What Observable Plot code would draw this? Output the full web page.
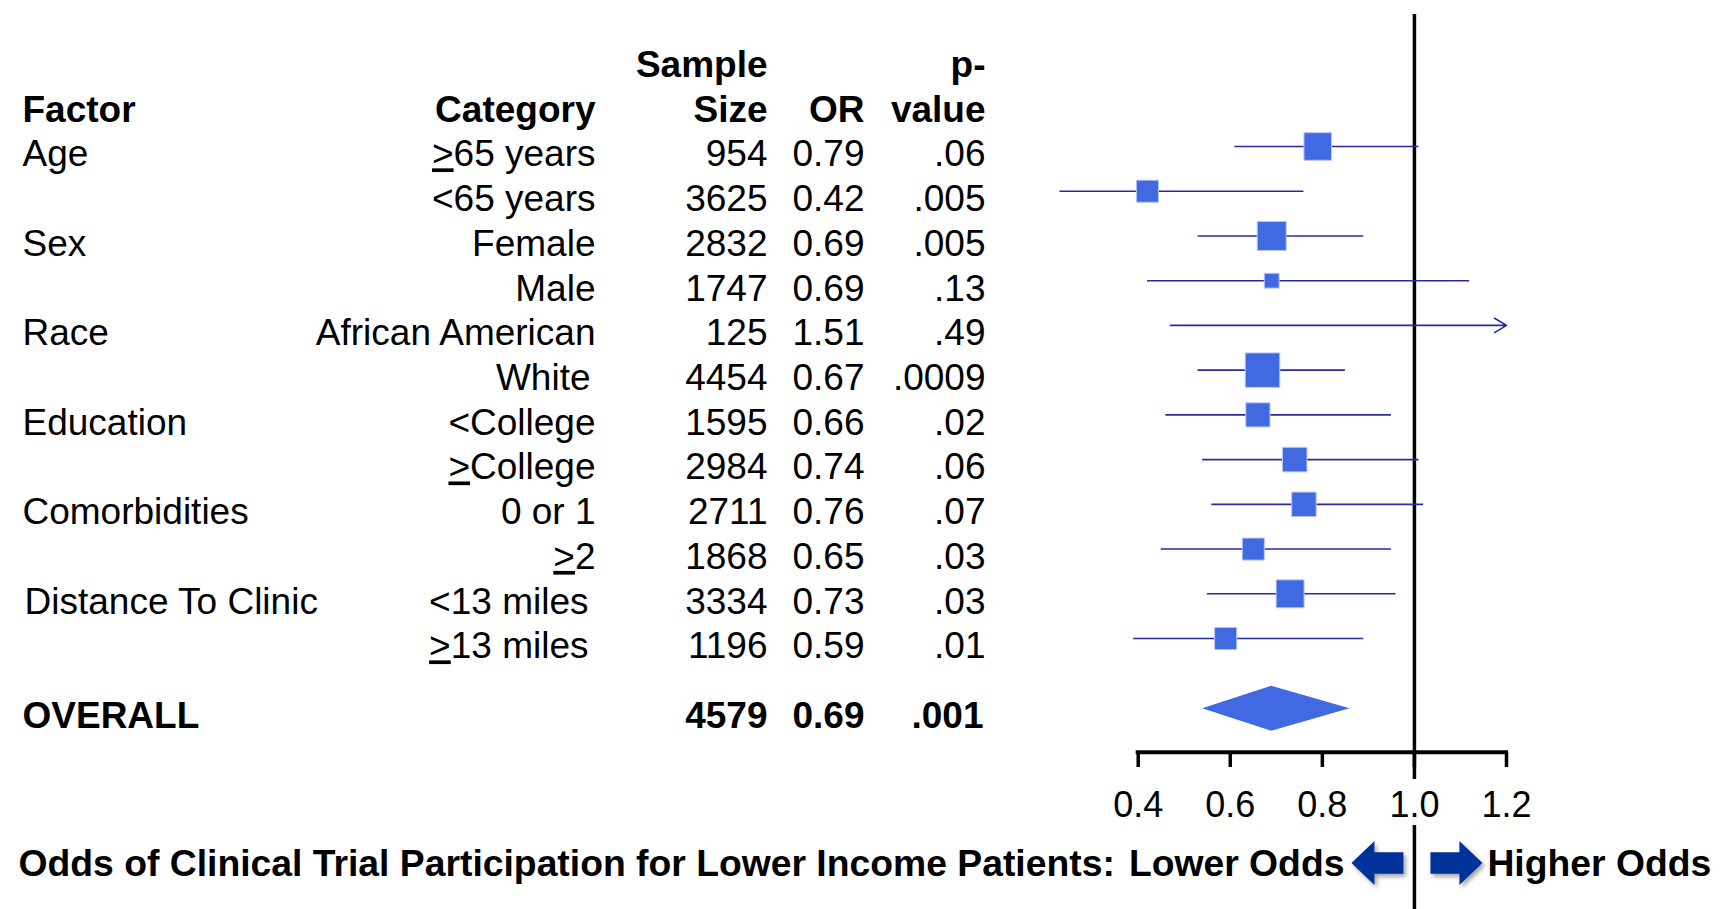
<!DOCTYPE html>
<html>
<head>
<meta charset="utf-8">
<script src="https://cdn.jsdelivr.net/npm/d3@7"></script>
<script src="https://cdn.jsdelivr.net/npm/@observablehq/plot@0.6"></script>
<style>
  html, body { margin: 0; padding: 0; background: #fff; }
  #chart svg { display: block; }
</style>
</head>
<body>
<div id="chart"></div>
<script>
// ---------------- data ----------------
const factors = ["Age", "", "Sex", "", "Race", "", "Education", "", "Comorbidities", "", "Distance To Clinic", ""];
// "≥" is drawn as an underlined ">" like the original slide
const categories = ["≥65 years", "<65 years", "Female", "Male", "African American", "White",
  "<College", "≥College", "0 or 1", "≥2", "<13 miles", "≥13 miles"];
const sampleSize = [954, 3625, 2832, 1747, 125, 4454, 1595, 2984, 2711, 1868, 3334, 1196];
const oddsRatio = [0.79, 0.42, 0.69, 0.69, 1.51, 0.67, 0.66, 0.74, 0.76, 0.65, 0.73, 0.59];
const pValue = [".06", ".005", ".005", ".13", ".49", ".0009", ".02", ".06", ".07", ".03", ".03", ".01"];
const ciLower = [0.61, 0.23, 0.53, 0.42, 0.47, 0.53, 0.46, 0.54, 0.56, 0.45, 0.55, 0.39];
const ciUpper = [1.01, 0.76, 0.89, 1.12, 4.81, 0.85, 0.95, 1.01, 1.02, 0.95, 0.96, 0.89];
const boxWeight = [80, 64, 84, 43, 0, 100, 70, 71, 71, 64, 81, 64]; // relative box weights
const overallLabel = "OVERALL";
const overallN = 4579;
const overallOR = 0.69;
const overallP = ".001";
const overallLower = 0.54;
const overallUpper = 0.86;
const xTicks = [0.4, 0.6, 0.8, 1.0, 1.2];
const headerTop = ["", "", "Sample", "", "p-"];
const headerBottom = ["Factor", "Category", "Size", "OR", "value"];
const captionText = "Odds of Clinical Trial Participation for Lower Income Patients:";
const lowerText = "Lower Odds";
const higherText = "Higher Odds";

// ---------------- layout ----------------
const W = 1720, H = 909;
const rowTop = 146, rowStep = 44.73;
const xMin = 0.4, xMax = 1.2;
const FONT = "'Liberation Sans', Arial, Helvetica, sans-serif";
const FS = 37;
const lineColor = "#2a2a9e";
const boxColor = "#4169e1";
const arrowColor = "#003399";
const overallRow = 12.57;
const textDy = 8;
const py = px => (px - rowTop) / rowStep;   // pixel row -> row units (layout helper)

const rows = categories.map((c, i) => ({
  i, factor: factors[i], category: c, n: sampleSize[i], or: oddsRatio[i], p: pValue[i],
  lo: ciLower[i], hi: ciUpper[i], w: boxWeight[i]
}));
const inRange = rows.filter(d => d.or <= xMax);
const clipped = rows.filter(d => d.hi > xMax);
const unclipped = rows.filter(d => d.hi <= xMax);

const colX = [22, 595, 767, 864, 985];
const colAnchor = ["start", "end", "end", "end", "end"];
const headerData = [0, 1, 2, 3, 4].map(k => ({k, top: headerTop[k], bottom: headerBottom[k]}));
// small text-box offsets in the original slide
const catNudge = {"White": -5, "<13 miles": -7, "≥13 miles": -7};
const factorNudge = {"Distance To Clinic": 2};
const catGroups = d3.groups(rows, d => catNudge[d.category] || 0);
const facGroups = d3.groups(rows, d => factorNudge[d.factor] || 0);

const diamond = [
  {y: overallRow - 0.503, x1: overallOR, x2: overallOR},
  {y: overallRow, x1: overallLower, x2: overallUpper},
  {y: overallRow + 0.503, x1: overallOR, x2: overallOR}
];

// block-arrow symbols (drawn around the origin)
function blockArrow(dir) {
  return {
    draw(ctx, size) {
      const L = 52, head = 23, hh = 22, bh = 10.7;
      const t = -L / 2 * dir, hb = (-L / 2 + head) * dir, e = L / 2 * dir;
      ctx.moveTo(t, 0);
      ctx.lineTo(hb, -hh);
      ctx.lineTo(hb, -bh);
      ctx.lineTo(e, -bh);
      ctx.lineTo(e, bh);
      ctx.lineTo(hb, bh);
      ctx.lineTo(hb, hh);
      ctx.closePath();
    }
  };
}
const captionRow = 15.86;
const arrowRow = 16.02;
const axisRow = py(751.7);

const txt = {fontSize: FS, fill: "#000"};

const chart = Plot.plot({
  width: W,
  height: H,
  marginLeft: 0, marginRight: 0, marginTop: 0, marginBottom: 0,
  style: {fontFamily: FONT, background: "#fff"},
  x: {type: "linear", domain: [xMin, xMax], range: [1137.7, 1506], axis: null},
  y: {type: "linear", domain: [py(0), py(H)], range: [0, H], axis: null},
  r: {type: "linear", domain: [0, 100], range: [0, 19.46]},
  marks: [
    // reference line at OR = 1
    Plot.ruleX([1], {y1: py(14), y2: py(779), stroke: "#000", strokeWidth: 3.5}),
    Plot.ruleX([1], {y1: py(825), y2: py(H), stroke: "#000", strokeWidth: 3.5}),
    // x axis
    Plot.ruleY([axisRow], {x1: xMin, x2: xMax, stroke: "#000", strokeWidth: 4, strokeLinecap: "square"}),
    Plot.ruleX(xTicks, {x: d => d, y1: axisRow, y2: py(767), stroke: "#000", strokeWidth: 3.5}),
    Plot.text(xTicks, {x: d => d, y: py(803), dy: 1.5, text: d => d3.format(".1f")(d), ...txt, fontSize: 36}),
    // confidence intervals
    Plot.ruleY(unclipped, {y: "i", x1: "lo", x2: "hi", stroke: lineColor, strokeWidth: 1.6}),
    Plot.arrow(clipped, {y1: "i", y2: "i", x1: "lo", x2: xMax, stroke: lineColor, strokeWidth: 1.6,
      headLength: 13, headAngle: 62}),
    // boxes
    Plot.dot(inRange.filter(d => d.w > 0), {x: "or", y: "i", r: "w", symbol: "square", fill: boxColor,
      stroke: "#b8c6f2", strokeWidth: 1}),
    // overall diamond
    Plot.areaX(diamond, {y: "y", x1: "x1", x2: "x2", fill: boxColor}),
    // table: header
    ...headerData.map(h => Plot.text([h], {y: -2, dy: textDy, text: "top", frameAnchor: "left", dx: colX[h.k],
      textAnchor: colAnchor[h.k], ...txt, fontWeight: "bold"})),
    ...headerData.map(h => Plot.text([h], {y: -1, dy: textDy, text: "bottom", frameAnchor: "left", dx: colX[h.k],
      textAnchor: colAnchor[h.k], ...txt, fontWeight: "bold"})),
    // table: body
    ...facGroups.map(([nudge, g]) => Plot.text(g, {y: "i", dy: textDy, text: "factor", frameAnchor: "left", dx: colX[0] + nudge, textAnchor: "start", ...txt})),
    ...catGroups.map(([nudge, g]) => Plot.text(g, {y: "i", dy: textDy, text: "category", frameAnchor: "left", dx: colX[1] + nudge, textAnchor: "end", ...txt})),
    Plot.text(rows, {y: "i", dy: textDy, text: d => String(d.n), frameAnchor: "left", dx: colX[2], textAnchor: "end", ...txt}),
    Plot.text(rows, {y: "i", dy: textDy, text: d => d3.format(".2f")(d.or), frameAnchor: "left", dx: colX[3], textAnchor: "end", ...txt}),
    Plot.text(rows, {y: "i", dy: textDy, text: "p", frameAnchor: "left", dx: colX[4], textAnchor: "end", ...txt}),
    // overall row
    Plot.text([overallLabel], {y: overallRow, dy: textDy - 1, text: d => d, frameAnchor: "left", dx: colX[0], textAnchor: "start", ...txt, fontWeight: "bold"}),
    Plot.text([overallN], {y: overallRow, dy: textDy - 1, text: d => String(d), frameAnchor: "left", dx: colX[2], textAnchor: "end", ...txt, fontWeight: "bold"}),
    Plot.text([overallOR], {y: overallRow, dy: textDy - 1, text: d => d3.format(".2f")(d), frameAnchor: "left", dx: colX[3], textAnchor: "end", ...txt, fontWeight: "bold"}),
    Plot.text([overallP], {y: overallRow, dy: textDy - 1, text: d => d, frameAnchor: "left", dx: colX[4] - 2, textAnchor: "end", ...txt, fontWeight: "bold"}),
    // caption
    Plot.text([captionText], {y: captionRow, dy: textDy, text: d => d, frameAnchor: "left", dx: 18, textAnchor: "start", ...txt, fontSize: 37.3, fontWeight: "bold"}),
    Plot.text([lowerText], {x: 1, y: captionRow, dy: textDy, dx: -70, text: d => d, textAnchor: "end", ...txt, fontSize: 37.3, fontWeight: "bold"}),
    Plot.text([higherText], {x: 1, y: captionRow, dy: textDy, dx: 73, text: d => d, textAnchor: "start", ...txt, fontSize: 37.3, fontWeight: "bold"}),
    Plot.dot([1], {x: d => d, y: arrowRow, dx: -37, symbol: blockArrow(1), r: 10, fill: arrowColor, className: "odds-arrow"}),
    Plot.dot([1], {x: d => d, y: arrowRow, dx: 42, symbol: blockArrow(-1), r: 10, fill: arrowColor, className: "odds-arrow"})
  ]
});

const svg = d3.select(chart);
// draw "≥" as an underlined ">" (as in the original slide)
svg.selectAll("text").each(function () {
  const t = d3.select(this);
  if (t.selectAll("tspan").size() > 0) return;
  const s = t.text();
  if (s.startsWith("≥")) {
    t.text("");
    t.append("tspan").attr("text-decoration", "underline").style("text-decoration", "underline").text(">");
    t.append("tspan").text(s.slice(1));
  }
});
// soft shadow for the block arrows (the two custom-symbol dots)
const defs = svg.insert("defs", ":first-child");
const f = defs.append("filter").attr("id", "arrowShadow").attr("x", "-30%").attr("y", "-30%").attr("width", "170%").attr("height", "170%");
f.append("feDropShadow").attr("dx", 2.5).attr("dy", 3).attr("stdDeviation", 2).attr("flood-color", "#000").attr("flood-opacity", 0.35);
svg.selectAll("path").filter(function () { return d3.select(this).attr("fill") === arrowColor || (this.parentNode && d3.select(this.parentNode).attr("fill") === arrowColor); })
  .attr("filter", "url(#arrowShadow)");

document.getElementById("chart").appendChild(chart);
</script>
</body>
</html>
